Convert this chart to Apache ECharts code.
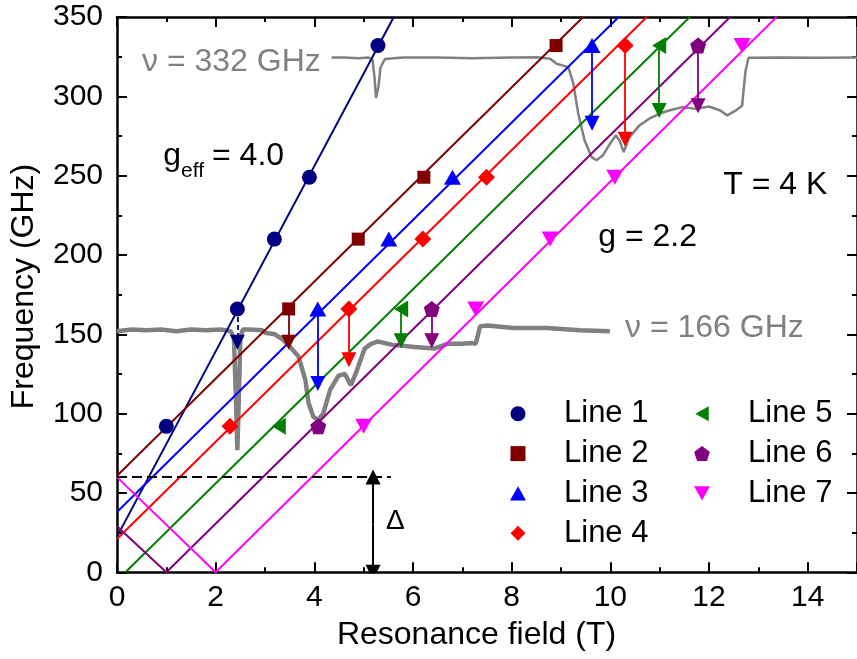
<!DOCTYPE html>
<html>
<head>
<meta charset="utf-8">
<script src="https://cdn.jsdelivr.net/npm/echarts@6/dist/echarts.min.js"></script>
<style>
html,body{margin:0;padding:0;background:#fff;}
#chart{width:857px;height:659px;}
</style>
</head>
<body>
<div id="chart"></div>
<script>
// ---------------- DATA ----------------
const lineNames = ['Line 1','Line 2','Line 3','Line 4','Line 5','Line 6','Line 7'];

// measured resonance points [field (T), frequency (GHz)]
const line1Pts = [[1.00,92],[2.44,166],[3.19,210],[3.90,249],[5.29,332]];
const line2Pts = [[3.48,166],[4.89,210],[6.22,249],[8.90,332]];
const line3Pts = [[4.07,166],[5.51,210],[6.80,249],[9.63,332]];
const line4Pts = [[2.29,92],[4.70,166],[6.20,210],[7.49,249],[10.30,332]];
const line5Pts = [[3.28,92],[5.76,166],[10.99,332]];
const line6Pts = [[4.08,92],[6.38,166],[11.78,332]];
const line7Pts = [[5.00,92],[7.27,166],[8.78,210],[10.09,249],[12.67,332]];

// fitted branches
const fit1 = [[0,22.5],[5.61,350]];
const fit2 = [[0,60.8],[9.45,350]];
const fit3 = [[0,38],[10.17,350]];
const fit4 = [[0,21],[10.74,350]];
const fit5 = [[0.17,0],[11.61,350]];
const fit6 = [[0,29],[1.0,0],[12.43,350]];
const fit7 = [[0,60],[2.0,0],[13.37,350]];

// gap level and gap arrow
const gapLine = [[0,60],[5.55,60]];
const gapArrowX = 5.19;
const gapArrowFrom = 0;
const gapArrowTo = 60;

// transitions marked by arrows
const arrowX    = [2.44, 3.48, 4.07, 4.70, 5.76, 6.38, 9.63, 10.30, 10.99, 11.78];
const arrowFrom = [166, 166, 166, 166, 166, 166, 332, 332, 332, 332];
const arrowTo   = [145, 145, 119, 134, 146, 146, 283, 273, 291, 294];
const arrowLine = [0, 1, 2, 3, 4, 5, 2, 3, 4, 5];

// ESR spectra (offset to their frequency level)
const trace166 = [[0.0,152],[0.3,153],[0.6,152.5],[0.9,153],[1.2,152],[1.5,153],[1.8,152.5],[2.1,153],[2.3,152],
  [2.37,148],[2.41,110],[2.44,77],[2.47,110],[2.50,148],[2.55,153],[2.7,153],[2.94,152.5],[3.0,151],[3.2,150],
  [3.35,147],[3.51,142],[3.68,136],[3.82,121],[3.88,107],[3.98,98],[4.08,96],[4.18,100],[4.32,115],[4.49,124],
  [4.62,125],[4.74,118],[4.86,127],[5.02,141],[5.15,144],[5.29,145.5],[5.56,143.5],[6.03,142],[6.43,141],
  [6.70,144],[7.0,144],[7.17,144.5],[7.27,144],[7.32,150],[7.36,155],[7.5,155.5],[8.04,154],[8.71,154],
  [9.38,152.5],[9.99,152]];
const trace332 = [[4.35,324.5],[4.6,324.5],[4.9,324],[5.1,324.5],[5.18,323],[5.22,312],[5.25,299],[5.27,298.5],
  [5.30,306],[5.34,318],[5.43,323.5],[5.8,324.5],[6.5,324.5],[7.2,324],[8.0,324.5],[8.51,324.7],[8.78,323.7],
  [8.91,320.5],[9.15,318.4],[9.25,308],[9.35,289],[9.48,272],[9.62,261.7],[9.72,259.7],[9.85,262.8],[9.99,270],
  [10.11,275.4],[10.19,272],[10.27,264.9],[10.39,274.3],[10.59,281.7],[10.79,285.9],[10.99,289],[11.19,291.1],
  [11.46,293.2],[11.73,292.2],[12.0,293.6],[12.23,291.1],[12.37,288],[12.54,291],[12.67,294],[12.74,316],
  [12.80,324.3],[13.5,324.5],[14.2,324.3],[15,324.5]];

// axis ticks
const xMin = 0, xMax = 15, xStep = 2;
const yMin = 0, yMax = 350, yStep = 50;

// ---------------- STYLE ----------------
const FONT = '"Liberation Sans", Arial, sans-serif';
const colors = ['#000080','#800000','#0000FF','#FF0000','#008000','#800080','#FF00FF'];
const gray = '#808080';
const symRect = 'path://M0,0 L10,0 L10,10 L0,10 Z';
const symUpTri = 'path://M5,0 L10,9 L0,9 Z';
const symDiamond = 'path://M5,0 L10,5 L5,10 L0,5 Z';
const symLeftTri = 'path://M0,5 L9,0 L9,10 Z';
const symDownTri = 'path://M0,0 L10,0 L5,9 Z';
const symPent = 'path://M5,0 L10,3.7 L8.1,9.5 L1.9,9.5 L0,3.7 Z';
const symbols = ['circle',symRect,symUpTri,symDiamond,symLeftTri,symPent,symDownTri];
const symSizes = [15,13,[17,15],17,[14,17],16,[17,15]];
const pts = [line1Pts,line2Pts,line3Pts,line4Pts,line5Pts,line6Pts,line7Pts];
const fits = [fit1,fit2,fit3,fit4,fit5,fit6,fit7];

const series = [];
// spectra
series.push({type:'line', name:'trace166', data:trace166, showSymbol:false, symbol:'none', silent:true, z:1,
  lineStyle:{color:gray, width:4.5}});
series.push({type:'line', name:'trace332', data:trace332, showSymbol:false, symbol:'none', silent:true, z:1,
  lineStyle:{color:gray, width:2.5}});
// fits
fits.forEach((f,i)=>{
  series.push({type:'line', name:'fit'+(i+1), data:f, showSymbol:false, symbol:'none', silent:true, z:2,
    lineStyle:{color:colors[i], width:2}});
});
// gap dashed line
series.push({type:'line', name:'gap', data:gapLine, showSymbol:false, symbol:'none', silent:true, z:2,
  lineStyle:{color:'#000', width:2, type:[10,5]}});
// arrows
const arrowData = arrowX.map((x,k)=>({
  coords:[[x,arrowFrom[k]],[x,arrowTo[k]]],
  lineStyle:{color:colors[arrowLine[k]], type: arrowLine[k]===0 ? [5,3] : 'solid'}
}));
const gapMid = (gapArrowFrom + gapArrowTo) / 2;
arrowData.push({coords:[[gapArrowX,gapMid],[gapArrowX,gapArrowTo]], lineStyle:{color:'#000', width:2}});
arrowData.push({coords:[[gapArrowX,gapMid],[gapArrowX,gapArrowFrom]], lineStyle:{color:'#000', width:2}});
series.push({type:'lines', coordinateSystem:'cartesian2d', name:'arrows', silent:true, z:3,
  symbol:['none','triangle'], symbolSize:[9,15], symbolOffset:[0,'50%'],
  lineStyle:{width:1.8, opacity:1, curveness:0},
  data:arrowData});
// markers
pts.forEach((p,i)=>{
  series.push({type:'scatter', name:lineNames[i], data:p, symbol:symbols[i], symbolSize:symSizes[i], z:5,
    itemStyle:{color:colors[i], opacity:1}});
});

const axisCommon = {
  type:'value',
  axisLine:{show:true, onZero:false, lineStyle:{color:'#000', width:2.5}},
  axisTick:{show:true, inside:true, length:10, lineStyle:{color:'#000', width:2}},
  minorTick:{show:true, splitNumber:2, length:5, lineStyle:{color:'#000', width:2}},
  splitLine:{show:false}, minorSplitLine:{show:false}
};

const legendCommon = {
  orient:'vertical', itemWidth:16, itemHeight:15, itemGap:8.8, selectedMode:false,
  textStyle:{fontSize:31, fontFamily:FONT, color:'#000', lineHeight:30, padding:[0,0,0,33]}, padding:0
};

const option = {
  animation:false,
  backgroundColor:'#fff',
  grid:{left:117, right:-4, top:17, bottom:86.7, containLabel:false},
  xAxis:[
    Object.assign({}, axisCommon, {min:xMin, max:xMax, interval:xStep, position:'bottom',
      axisLabel:{show:true, fontSize:30, fontFamily:FONT, color:'#000', margin:10, showMaxLabel:false}}),
    Object.assign({}, axisCommon, {min:xMin, max:xMax, interval:xStep, position:'top', axisLabel:{show:false}})
  ],
  yAxis:[
    Object.assign({}, axisCommon, {min:yMin, max:yMax, interval:yStep, position:'left',
      axisLabel:{show:true, fontSize:30, fontFamily:FONT, color:'#000', margin:14}}),
    Object.assign({}, axisCommon, {min:yMin, max:yMax, interval:yStep, position:'right', axisLabel:{show:false}})
  ],
  legend:[
    Object.assign({}, legendCommon, {left:510, top:398.3,
      data:[{name:'Line 1', icon:'circle'},{name:'Line 2', icon:symRect},{name:'Line 3', icon:symUpTri},{name:'Line 4', icon:symDiamond}]}),
    Object.assign({}, legendCommon, {left:694, top:398.3,
      data:[{name:'Line 5', icon:symLeftTri},{name:'Line 6', icon:symPent},{name:'Line 7', icon:symDownTri}]})
  ],
  graphic:[
    {type:'text', x:142, y:61.7, silent:true, style:{text:'ν = 332 GHz', fill:gray, font:'32px '+FONT, align:'left', verticalAlign:'middle'}},
    {type:'text', x:625, y:328.5, silent:true, style:{text:'ν = 166 GHz', fill:gray, font:'32px '+FONT, align:'left', verticalAlign:'middle'}},
    {type:'text', x:163.3, y:156.3, silent:true, style:{text:'g', fill:'#000', font:'32px '+FONT, align:'left', verticalAlign:'middle'}},
    {type:'text', x:181, y:171.5, silent:true, style:{text:'eff', fill:'#000', font:'21px '+FONT, align:'left', verticalAlign:'middle'}},
    {type:'text', x:212, y:156.3, silent:true, style:{text:'= 4.0', fill:'#000', font:'32px '+FONT, align:'left', verticalAlign:'middle'}},
    {type:'text', x:723.3, y:185, silent:true, style:{text:'T = 4 K', fill:'#000', font:'32px '+FONT, align:'left', verticalAlign:'middle'}},
    {type:'text', x:598.3, y:237.5, silent:true, style:{text:'g = 2.2', fill:'#000', font:'32px '+FONT, align:'left', verticalAlign:'middle'}},
    {type:'text', x:386, y:521.5, silent:true, style:{text:'Δ', fill:'#000', font:'28px '+FONT, align:'left', verticalAlign:'middle'}},
    {type:'text', x:476.5, y:635, silent:true, style:{text:'Resonance field (T)', fill:'#000', font:'32px '+FONT, align:'center', verticalAlign:'middle'}},
    {type:'text', x:24, y:286.5, rotation:Math.PI/2, silent:true, style:{text:'Frequency (GHz)', fill:'#000', font:'32px '+FONT, align:'center', verticalAlign:'middle'}}
  ],
  series:series
};

const chart = echarts.init(document.getElementById('chart'), null, {renderer:'canvas'});
chart.setOption(option);
</script>
</body>
</html>
